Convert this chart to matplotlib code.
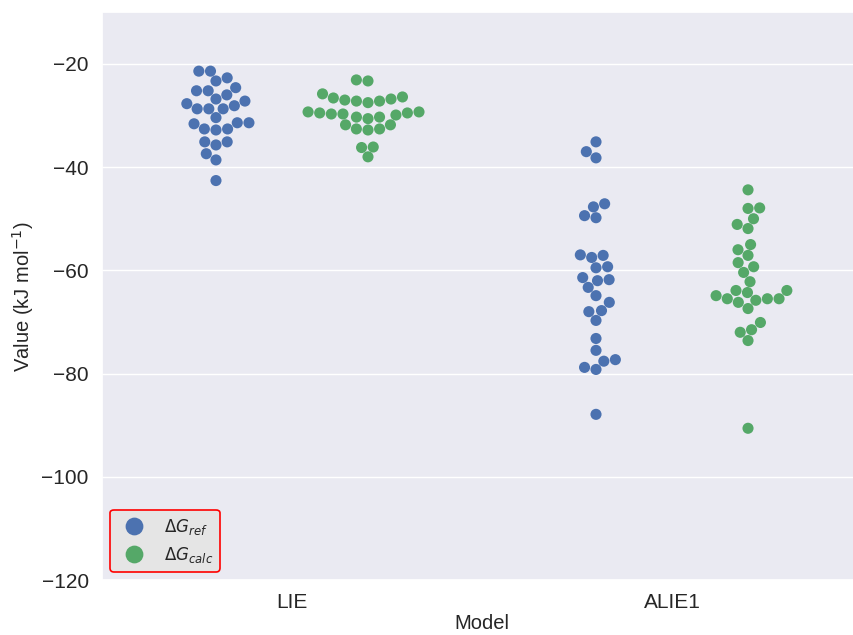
import numpy as np
import pandas as pd
import matplotlib
matplotlib.use("Agg")
import matplotlib.pyplot as plt
import seaborn as sns

# valores (kJ/mol)
lie_ref = [-21.4, -21.4, -23.3, -22.7, -24.6, -25.2, -25.2, -26.0, -26.8, -28.1,
           -27.2, -27.7, -28.7, -28.7, -28.7, -30.4, -31.6, -31.4, -31.4, -32.6,
           -32.8, -32.6, -35.1, -35.7, -35.1, -37.4, -38.6, -42.6]
lie_calc = [-23.1, -23.3, -26.4, -26.8, -25.8, -27.2, -27.5, -27.2, -27.0, -26.6,
            -29.3, -29.3, -29.7, -29.7, -30.3, -30.6, -30.3, -29.9, -29.5, -29.5,
            -31.8, -32.6, -32.8, -32.6, -31.8, -36.1, -36.2, -38.0]
alie_ref = [-35.1, -37.0, -38.2, -47.1, -47.7, -49.4, -49.8, -57.1, -57.5, -57.0,
            -59.3, -59.5, -61.8, -62.0, -61.4, -63.3, -64.9, -66.2, -67.8, -68.0,
            -69.7, -73.2, -75.5, -77.6, -77.3, -78.8, -79.2, -87.9]
alie_calc = [-44.4, -47.9, -48.0, -50.0, -51.1, -51.9, -55.0, -56.0, -57.1, -58.5,
             -59.3, -60.4, -62.2, -63.9, -64.3, -63.9, -65.5, -65.5, -66.2, -65.8,
             -65.5, -64.9, -67.4, -70.1, -71.5, -72.0, -73.6, -90.6]

models = ["LIE", "ALIE1"]
hue_labels = [r"$\Delta G_{ref}$", r"$\Delta G_{calc}$"]

rows = []
for m, vals in [("LIE", lie_ref), ("ALIE1", alie_ref)]:
    rows += [(m, v, hue_labels[0]) for v in vals]
for m, vals in [("LIE", lie_calc), ("ALIE1", alie_calc)]:
    rows += [(m, v, hue_labels[1]) for v in vals]
df = pd.DataFrame(rows, columns=["Model", "Value", "Type"])

sns.set_theme(style="darkgrid")
plt.rcParams["font.family"] = ["Liberation Sans", "DejaVu Sans"]

fig = plt.figure(figsize=(8.54, 6.35), dpi=100)
ax = fig.add_axes([0.1194, 0.0866, 0.89, 0.894])

sns.swarmplot(data=df, x="Model", y="Value", hue="Type", order=models,
              hue_order=hue_labels, dodge=True, size=8,
              palette=["#4C72B0", "#55A868"], ax=ax)

ax.set_ylim(-120, -10)
ax.set_yticks([-120, -100, -80, -60, -40, -20])
ax.tick_params(labelsize=15)
ax.set_xlabel("Model", fontsize=14.5, labelpad=1)
ax.set_ylabel(r"Value (kJ mol$^{-1}$)", fontsize=14.5, labelpad=4)

leg = ax.legend(loc="lower left", frameon=True, fontsize=12, markerscale=1.6,
                facecolor="#E5E5E5", edgecolor="red", framealpha=1)
leg.get_frame().set_linewidth(1.2)

fig.savefig("out.png", dpi=100)
